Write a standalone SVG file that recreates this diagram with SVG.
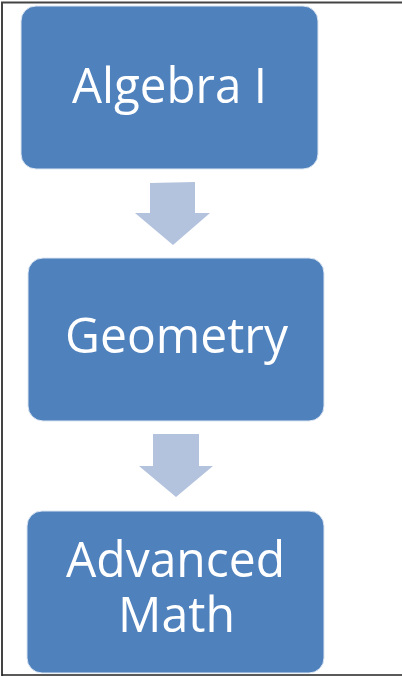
<svg xmlns="http://www.w3.org/2000/svg" width="402" height="677" viewBox="0 0 402 677">
<style>
.box{fill:#4F81BD;stroke:#DCE6F2;stroke-width:1}
.arrow{fill:#B3C3DE}
.lbl{fill:#FFFFFF;font-family:"Open Sans","Noto Sans",sans-serif;font-size:50px;text-anchor:middle}
</style>
<rect x="0" y="0" width="402" height="677" fill="#FFFFFF"/>
<path d="M2,676 V2.5 H402" fill="none" stroke="#444444" stroke-width="2"/>
<path d="M2,675 H402" fill="none" stroke="#222222" stroke-width="1.5"/>
<g id="connectors">
<polygon class="arrow" points="150,183 195,182 195,213 210,213 173,245 135,213 150,213"/>
<polygon class="arrow" points="153,434 199,434 199,466 213,466 176,497 139,466 153,466"/>
</g>
<g id="algebra">
<rect class="box" x="21" y="6" width="297" height="163" rx="15"/>
<text class="lbl" x="169.5" y="103" textLength="195" lengthAdjust="spacingAndGlyphs">Algebra I</text>
</g>
<g id="geometry">
<rect class="box" x="28" y="258" width="296" height="163" rx="15"/>
<text class="lbl" x="176.5" y="353" textLength="223" lengthAdjust="spacingAndGlyphs">Geometry</text>
</g>
<g id="advanced">
<rect class="box" x="27" y="511" width="297" height="162" rx="15"/>
<text class="lbl" x="175.5" y="577" textLength="219" lengthAdjust="spacingAndGlyphs">Advanced</text>
<text class="lbl" x="176.5" y="632" textLength="117" lengthAdjust="spacingAndGlyphs">Math</text>
</g>
</svg>
